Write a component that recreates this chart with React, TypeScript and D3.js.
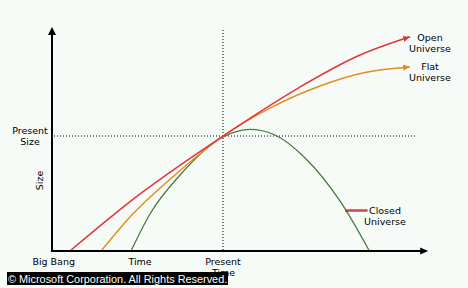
import React from "react";
import * as d3 from "d3";

// Time axis: 0 = axis origin, 1 = present. Size axis: 0 = nothing, 1 = present size.
const openUniverse: [number, number][] = [
  [0.105, 0], [0.515, 0.496], [1, 1], [1.45, 1.426], [1.801, 1.704], [2.094, 1.863],
];
const flatUniverse: [number, number][] = [
  [0.287, 0], [0.456, 0.296], [0.719, 0.661], [1, 1], [1.275, 1.243],
  [1.567, 1.435], [1.83, 1.552], [2.094, 1.6],
];
const closedUniverse: [number, number][] = [
  [0.462, 0], [0.573, 0.322], [0.749, 0.661], [1, 0.991], [1.158, 1.057],
  [1.304, 1.009], [1.48, 0.809], [1.684, 0.435], [1.856, 0],
];
const xTickLabels = ["Big Bang", "Time"];
const xTickValues = [0.01, 0.515];
const presentTime = 1;
const presentSize = 1;

const BG = "#f6fbf8";
const RED = "#e5333b";
const ORANGE = "#e38d1c";
const GREEN = "#4a7a3c";
const FONT = "'DejaVu Sans', Verdana, sans-serif";

export default function App() {
  const x = d3.scaleLinear().domain([0, 2.2]).range([52, 428.2]);
  const y = d3.scaleLinear().domain([0, 1.948]).range([251, 27]);
  const line = d3
    .line<[number, number]>()
    .x((d) => x(d[0]))
    .y((d) => y(d[1]))
    .curve(d3.curveMonotoneX);

  const x0 = x(0);
  const y0 = y(0);
  const xMax = x.range()[1];
  const yTop = y.range()[1];

  return (
    <svg
      width={468}
      height={288}
      style={{ position: "absolute", left: 0, top: 0, background: BG }}
      fontFamily={FONT}
      fontSize={9.5}
    >
      <defs>
        <marker id="arrRed" markerUnits="userSpaceOnUse" markerWidth={8} markerHeight={7} refX={7} refY={3} orient="auto">
          <path d="M0,0 L7,3 L0,6 Z" fill={RED} />
        </marker>
        <marker id="arrOrange" markerUnits="userSpaceOnUse" markerWidth={8} markerHeight={7} refX={7} refY={3} orient="auto">
          <path d="M0,0 L7,3 L0,6 Z" fill={ORANGE} />
        </marker>
      </defs>
      <rect x={0} y={0} width={468} height={288} fill={BG} />

      {/* dotted reference lines */}
      <line x1={x(presentTime)} x2={x(presentTime)} y1={30} y2={y0} stroke="#000" strokeWidth={1} strokeDasharray="1,2" />
      <line x1={x0 + 2} x2={416} y1={y(presentSize)} y2={y(presentSize)} stroke="#000" strokeWidth={1} strokeDasharray="1,2" />

      {/* curves */}
      <path d={line(closedUniverse) ?? ""} fill="none" stroke={GREEN} strokeWidth={1.3} />
      <path d={line(flatUniverse) ?? ""} fill="none" stroke={ORANGE} strokeWidth={1.5} markerEnd="url(#arrOrange)" />
      <path d={line(openUniverse) ?? ""} fill="none" stroke={RED} strokeWidth={1.5} markerEnd="url(#arrRed)" />

      {/* axes */}
      <line x1={x0} x2={x0} y1={y0 + 1} y2={yTop + 6} stroke="#000" strokeWidth={2} />
      <path d={`M${x0},${yTop} L${x0 - 4},${yTop + 8} L${x0 + 4},${yTop + 8} Z`} fill="#000" />
      <line x1={x0 - 1} x2={xMax - 6} y1={y0} y2={y0} stroke="#000" strokeWidth={2} />
      <path d={`M${xMax},${y0} L${xMax - 8},${y0 - 3.5} L${xMax - 8},${y0 + 3.5} Z`} fill="#000" />

      {/* axis labels */}
      {xTickLabels.map((t, i) => (
        <text key={t} x={x(xTickValues[i])} y={265} textAnchor="middle">{t}</text>
      ))}
      <text x={x(presentTime)} y={265} textAnchor="middle">Present</text>
      <text x={x(presentTime) + 0.5} y={276} textAnchor="middle">Time</text>
      <text x={30} y={134} textAnchor="middle">Present</text>
      <text x={30} y={145} textAnchor="middle">Size</text>
      <text transform={`translate(43,180.5) rotate(-90)`} textAnchor="middle">Size</text>

      {/* curve labels */}
      <text x={430} y={41} textAnchor="middle">Open</text>
      <text x={430} y={52} textAnchor="middle">Universe</text>
      <text x={430} y={69.5} textAnchor="middle">Flat</text>
      <text x={430} y={80.5} textAnchor="middle">Universe</text>
      <line x1={345} x2={367.5} y1={211} y2={211} stroke="#222" strokeWidth={1} />
      <line x1={345} x2={367.5} y1={210} y2={210} stroke={RED} strokeWidth={1.5} />
      <text x={385} y={213.5} textAnchor="middle">Closed</text>
      <text x={385} y={224.5} textAnchor="middle">Universe</text>

      {/* copyright */}
      <rect x={7} y={272} width={221} height={13} fill="#000" />
      <text x={8} y={282.5} fill="#fff" fontSize={10.9} fontFamily="'Liberation Sans', Arial, sans-serif">
        © Microsoft Corporation. All Rights Reserved.
      </text>
    </svg>
  );
}
